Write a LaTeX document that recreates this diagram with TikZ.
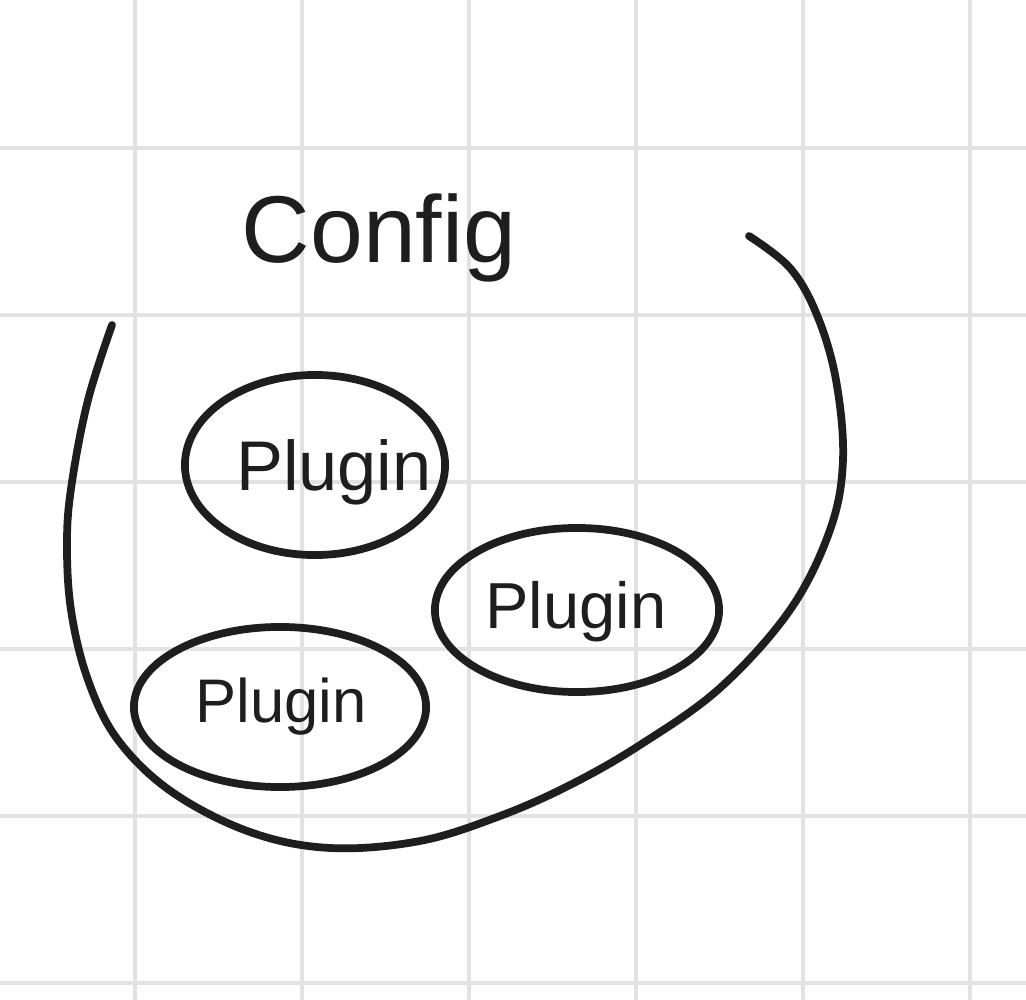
\documentclass[tikz,border=0pt]{standalone}
\usepackage{fontspec}
\setmainfont{Liberation Sans}
\usetikzlibrary{shapes.geometric}
\definecolor{gridgray}{HTML}{E2E2E2}
\definecolor{ink}{HTML}{1E1E1E}
\begin{document}
\begin{tikzpicture}[x=0.01cm,y=-0.01cm,
  gridline/.style={draw=gridgray,line width=1.4pt},
  stroke/.style={draw=ink,line width=2.2pt,line cap=round,line join=round},
  plugin/.style={ellipse,stroke,inner sep=0pt},
  pltext/.style={text=ink,font=\fontsize{20}{24}\selectfont},
]
\useasboundingbox (0,0) rectangle (1026,1000);
\fill[white] (0,0) rectangle (1026,1000);
% grid
\foreach \x in {135,302,469,636,803,970}
  \draw[gridline] (\x,0) -- (\x,1000);
\foreach \y in {148,315,482,649,816,983}
  \draw[gridline] (0,\y) -- (1026,\y);
% title
\node[text=ink,font=\fontsize{27}{30}\selectfont] (title) at (379,238) {Config};
% container curve
\draw[stroke] plot[smooth,tension=0.6] coordinates {
  (112,325) (88,400) (72,482) (67,540) (71,610) (88,680) (118,740)
  (172,792) (250,832) (330,848) (420,841) (500,816) (570,785)
  (640,745) (720,688) (790,610) (830,530) (843,460) (836,380)
  (817,315) (790,268) (749,236)};
% plugins
\node[plugin,minimum width=2.6cm,minimum height=1.8cm] (p1) at (315,465) {};
\node[pltext] (t1) at (334,472) {Plugin};
\node[plugin,minimum width=2.84cm,minimum height=1.64cm] (p2) at (577,610) {};
\node[pltext,font=\fontsize{18.5}{22}\selectfont] (t2) at (576,612) {Plugin};
\node[plugin,minimum width=2.92cm,minimum height=1.6cm] (p3) at (280,707) {};
\node[pltext,font=\fontsize{17.5}{21}\selectfont] (t3) at (281,707) {Plugin};
\end{tikzpicture}
\end{document}
